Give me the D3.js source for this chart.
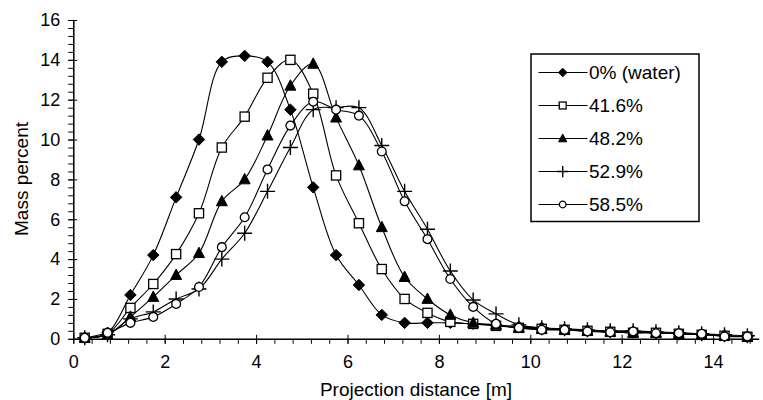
<!DOCTYPE html>
<html>
<head>
<meta charset="utf-8">
<script src="https://cdn.jsdelivr.net/npm/d3@7"></script>
<style>
  html, body { margin: 0; padding: 0; background: #fff; }
  svg { display: block; font-family: "Liberation Sans", Arial, sans-serif; }
</style>
</head>
<body>
<svg id="chart" width="763" height="400"></svg>
<script>
// ---- data ----
const distances = [0.25, 0.75, 1.25, 1.75, 2.25, 2.75, 3.25, 3.75, 4.25, 4.75,
                   5.25, 5.75, 6.25, 6.75, 7.25, 7.75, 8.25, 8.75, 9.25, 9.75,
                   10.25, 10.75, 11.25, 11.75, 12.25, 12.75, 13.25, 13.75, 14.25, 14.75];
const seriesNames = ["0% (water)", "41.6%", "48.2%", "52.9%", "58.5%"];
const water0 = [0.05, 0.3, 2.2, 4.2, 7.1, 10.0, 13.9, 14.2, 13.9, 11.5,
                7.6, 4.2, 2.7, 1.2, 0.8, 0.8, 0.8, 0.75, 0.7, 0.6,
                0.55, 0.45, 0.4, 0.35, 0.35, 0.3, 0.25, 0.2, 0.15, 0.1];
const pct416 = [0.05, 0.25, 1.55, 2.75, 4.25, 6.3, 9.6, 11.15, 13.1, 14.0,
                12.3, 8.2, 5.8, 3.5, 2.0, 1.3, 0.85, 0.75, 0.65, 0.55,
                0.5, 0.45, 0.4, 0.35, 0.3, 0.3, 0.25, 0.2, 0.15, 0.1];
const pct482 = [0.05, 0.2, 1.1, 2.1, 3.2, 4.3, 6.9, 8.0, 10.2, 12.7,
                13.8, 11.1, 8.7, 5.6, 3.1, 2.0, 1.2, 0.8, 0.7, 0.55,
                0.5, 0.45, 0.4, 0.35, 0.3, 0.3, 0.25, 0.2, 0.15, 0.1];
const pct529 = [0.05, 0.2, 1.0, 1.35, 2.0, 2.5, 4.0, 5.3, 7.4, 9.6,
                11.5, 11.6, 11.6, 9.7, 7.4, 5.5, 3.4, 1.95, 1.25, 0.7,
                0.55, 0.5, 0.45, 0.4, 0.4, 0.35, 0.3, 0.25, 0.2, 0.15];
const pct585 = [0.05, 0.3, 0.8, 1.1, 1.75, 2.6, 4.6, 6.1, 8.5, 10.7,
                11.9, 11.5, 11.2, 9.4, 6.9, 5.0, 3.0, 1.6, 0.75, 0.55,
                0.45, 0.45, 0.37, 0.33, 0.37, 0.28, 0.28, 0.25, 0.12, 0.12];
const seriesValues = [water0, pct416, pct482, pct529, pct585];
const markerTypes = ["diamond", "square", "triangle", "plus", "circle"];
const xTickLabels = [0, 2, 4, 6, 8, 10, 12, 14];
const yTickLabels = [0, 2, 4, 6, 8, 10, 12, 14, 16];
const xTitle = "Projection distance [m]";
const yTitle = "Mass percent";

// ---- layout ----
const svg = d3.select("#chart");
const x = d3.scaleLinear().domain([0, 15]).range([73.3, 758.8]);
const y = d3.scaleLinear().domain([0, 16]).range([338.8, 20]);
const minorX = d3.range(0, 15.001, 0.4).map(v => +v.toFixed(2));
const minorY = d3.range(0, 16.001, 0.4).map(v => +v.toFixed(2));

const fontTick = 18, fontTitle = 19;

// x axis minor ticks
svg.append("g").attr("transform", `translate(0,${y(0)})`)
  .call(d3.axisBottom(x).tickValues(minorX).tickSize(5).tickFormat(""))
  .call(g => g.select(".domain").remove());
// x axis major
const gx = svg.append("g").attr("transform", `translate(0,${y(0)})`)
  .call(d3.axisBottom(x).tickValues(xTickLabels).tickSize(5).tickSizeOuter(0).tickPadding(11).tickFormat(d3.format("d")));
gx.select(".domain").attr("stroke-width", 1.5);
gx.selectAll("text").attr("font-size", fontTick).attr("fill", "#000");
gx.selectAll(".tick line").attr("y1", -4);

// y axis minor
svg.append("g").attr("transform", `translate(${x(0)},0)`)
  .call(d3.axisLeft(y).tickValues(minorY).tickSize(5).tickFormat(""))
  .call(g => g.select(".domain").remove());
// y axis major
const gy = svg.append("g").attr("transform", `translate(${x(0)},0)`)
  .call(d3.axisLeft(y).tickValues(yTickLabels).tickSize(5).tickSizeOuter(0).tickPadding(8).tickFormat(d3.format("d")));
gy.select(".domain").attr("stroke-width", 1.5);
gy.selectAll("text").attr("font-size", fontTick).attr("fill", "#000");
gy.selectAll(".tick line").attr("x1", 4);

// titles
svg.append("text").attr("x", 416).attr("y", 396).attr("text-anchor", "middle")
  .attr("font-size", fontTitle).attr("fill", "#000").text(xTitle);
svg.append("text").attr("transform", `translate(28,179) rotate(-90)`).attr("text-anchor", "middle")
  .attr("font-size", fontTitle).attr("fill", "#000").text(yTitle);

// markers
function drawMarker(g, type, s) {
  const r = 5.2 * s;
  if (type === "diamond") {
    g.append("path").attr("d", `M0,${-r*1.1}L${r*1.1},0L0,${r*1.1}L${-r*1.1},0Z`).attr("fill", "#000").attr("stroke", "#000");
  } else if (type === "square") {
    const h = 4.6 * s;
    g.append("rect").attr("x", -h).attr("y", -h).attr("width", 2*h).attr("height", 2*h)
      .attr("fill", "#fff").attr("stroke", "#000").attr("stroke-width", 1.3);
  } else if (type === "triangle") {
    g.append("path").attr("d", `M0,${-r*1.15}L${r*1.05},${r*0.85}L${-r*1.05},${r*0.85}Z`).attr("fill", "#000").attr("stroke", "#000");
  } else if (type === "plus") {
    const p = 7.5 * s;
    g.append("path").attr("d", `M${-p},0H${p}M0,${-p}V${p}`).attr("stroke", "#000").attr("stroke-width", 1.4).attr("fill", "none");
  } else if (type === "circle") {
    g.append("circle").attr("r", 4.4 * s).attr("fill", "#fff").attr("stroke", "#000").attr("stroke-width", 1.3);
  }
}

const line = d3.line().x(d => x(d[0])).y(d => y(d[1])).curve(d3.curveCatmullRom.alpha(0.5));

seriesValues.forEach((vals, i) => {
  const pts = distances.map((d, j) => [d, vals[j]]);
  svg.append("path").datum(pts).attr("d", line).attr("fill", "none").attr("stroke", "#000").attr("stroke-width", 1.1);
});
seriesValues.forEach((vals, i) => {
  const pts = distances.map((d, j) => [d, vals[j]]);
  pts.forEach(p => {
    const g = svg.append("g").attr("transform", `translate(${x(p[0])},${y(p[1])})`);
    drawMarker(g, markerTypes[i], 1);
  });
});

// legend
const lg = svg.append("g");
lg.append("rect").attr("x", 531).attr("y", 54).attr("width", 168).attr("height", 167.5)
  .attr("fill", "#fff").attr("stroke", "#000").attr("stroke-width", 1.5);
const legendY = d3.scalePoint().domain(seriesNames).range([72.5, 204.5]);
seriesNames.forEach((name, i) => {
  const yy = legendY(name);
  lg.append("line").attr("x1", 538.5).attr("x2", 587.5).attr("y1", yy).attr("y2", yy).attr("stroke", "#000").attr("stroke-width", 1.1);
  const g = lg.append("g").attr("transform", `translate(562.7,${yy})`);
  drawMarker(g, markerTypes[i], 0.75);
  lg.append("text").attr("x", 589).attr("y", yy).attr("dy", "0.36em").attr("font-size", fontTitle).attr("fill", "#000").text(name);
});
</script>
</body>
</html>
